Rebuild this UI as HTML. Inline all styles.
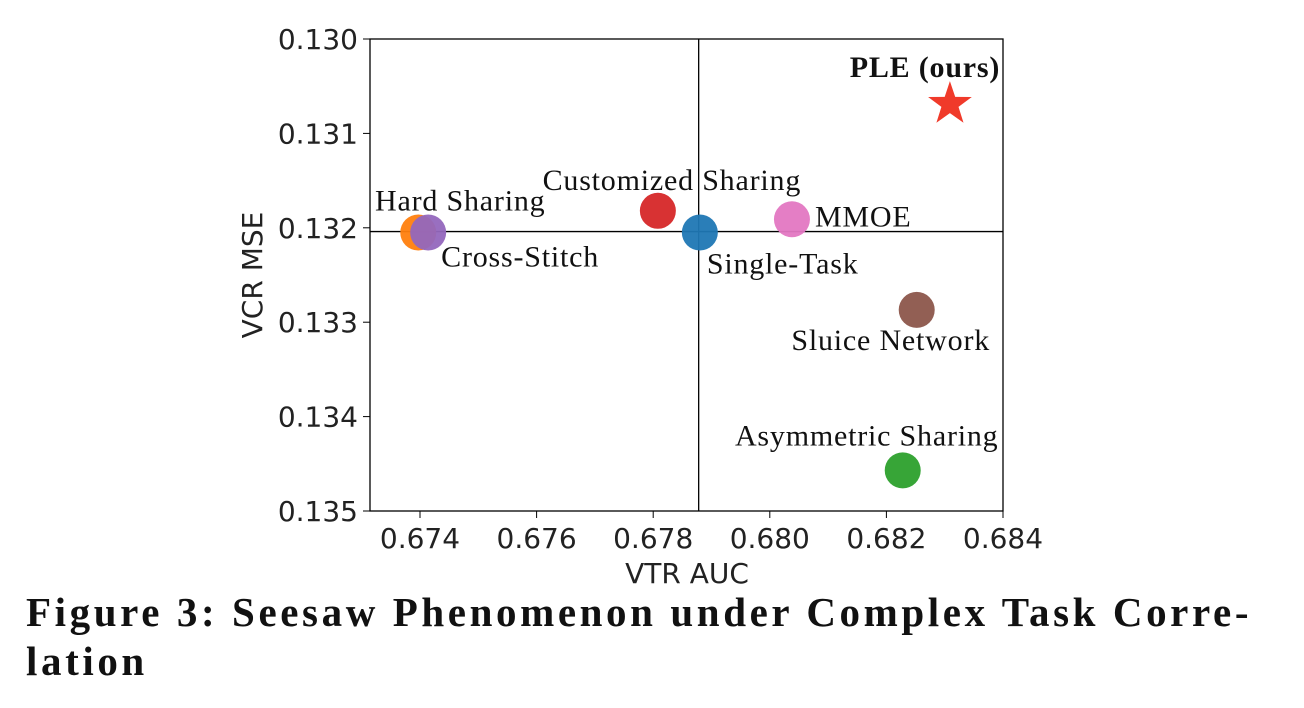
<!DOCTYPE html>
<html><head><meta charset="utf-8"><style>
body{margin:0;background:#fff;width:1304px;height:708px;overflow:hidden}
svg{position:absolute;left:0;top:0}
.cap{position:absolute;left:26px;top:588px;font-family:"Liberation Serif",serif;font-weight:bold;font-size:41px;letter-spacing:3.6px;line-height:49px;color:#111;width:1290px;white-space:nowrap}
</style></head><body>
<svg width="1304" height="708" id="chart"></svg>
<div class="cap">Figure 3: Seesaw Phenomenon under Complex Task Corre-<br>lation</div>
<script>
const names=["Hard Sharing","Cross-Stitch","Customized Sharing","Single-Task","MMOE","Sluice Network","Asymmetric Sharing","PLE (ours)"];
const auc=[0.67397,0.67414,0.67808,0.6788,0.68038,0.68252,0.68228,0.68309];
const mse=[0.13205,0.13205,0.13182,0.13205,0.13191,0.13287,0.13457,0.13069];
const colors=["#ff7f0e","#9467bd","#d62728","#1f77b4","#e377c2","#8c564b","#2ca02c","#f03a2a"];
const xTicks=[0.674,0.676,0.678,0.680,0.682,0.684];
const yTicks=[0.130,0.131,0.132,0.133,0.134,0.135];
const baseX=0.67878, baseY=0.13204;
const L=370,R=1003,T=39,B=511;
const x=v=>420+(v-0.674)*58300;
const y=v=>T+(v-0.130)*94400;
const NS="http://www.w3.org/2000/svg";
const svg=document.getElementById('chart');
function mk(t,a,txt){const e=document.createElementNS(NS,t);for(const k in a)e.setAttribute(k,a[k]);if(txt!==undefined)e.textContent=txt;svg.appendChild(e);return e;}
let e=mk('rect',{x:L,y:T,width:R-L,height:B-T,fill:'none',stroke:'#000','stroke-width':1.3});


xTicks.forEach(t=>{mk('line',{x1:x(t),x2:x(t),y1:B,y2:B+7,stroke:'#000'});
e=mk('text',{x:x(t),y:B+37,'text-anchor':'middle','font-family':'DejaVu Sans,sans-serif','font-size':28,fill:'#222'},t.toFixed(3));

});
yTicks.forEach(t=>{mk('line',{x1:L-7,x2:L,y1:y(t),y2:y(t),stroke:'#000'});
e=mk('text',{x:L-12,y:y(t)+10,'text-anchor':'end','font-family':'DejaVu Sans,sans-serif','font-size':28,fill:'#222'},t.toFixed(3));

});
e=mk('text',{x:687,y:583,'text-anchor':'middle','font-family':'DejaVu Sans,sans-serif','font-size':28,fill:'#222'},'VTR AUC');


e=mk('text',{x:262,y:275,'text-anchor':'middle','font-family':'DejaVu Sans,sans-serif','font-size':28,fill:'#222',transform:'rotate(-90 262 275)'},'VCR MSE');


e=mk('line',{x1:x(baseX),x2:x(baseX),y1:T,y2:B,stroke:'#000','stroke-width':1.3});


e=mk('line',{x1:L,x2:R,y1:y(baseY),y2:y(baseY),stroke:'#000','stroke-width':1.3});


const lab=[[42,-22,'middle'],[13,34,'start'],[14,-21,'middle'],[7,41,'start'],[23,7,'start'],[-26,40,'middle'],[-36,-25,'middle'],[-25,-27,'middle']];
names.forEach((n,i)=>{const cx=x(auc[i]),cy=y(mse[i]);
if(i===7){const pts=[];for(let k=0;k<10;k++){const r=k%2?9:23,a=-Math.PI/2+k*Math.PI/5;pts.push((cx+r*Math.cos(a)).toFixed(1)+','+(cy+r*Math.sin(a)).toFixed(1));}
e=mk('polygon',{points:pts.join(' '),fill:colors[i]});}
else e=mk('circle',{cx:cx,cy:cy,r:18,fill:colors[i],'fill-opacity':0.95});


e=mk('text',{x:cx+lab[i][0],y:cy+lab[i][1],'text-anchor':lab[i][2],'font-family':'Liberation Serif,serif','font-size':30,'letter-spacing':0.8,fill:'#111','font-weight':i===7?'bold':'normal'},n);

});
</script>
</body></html>
